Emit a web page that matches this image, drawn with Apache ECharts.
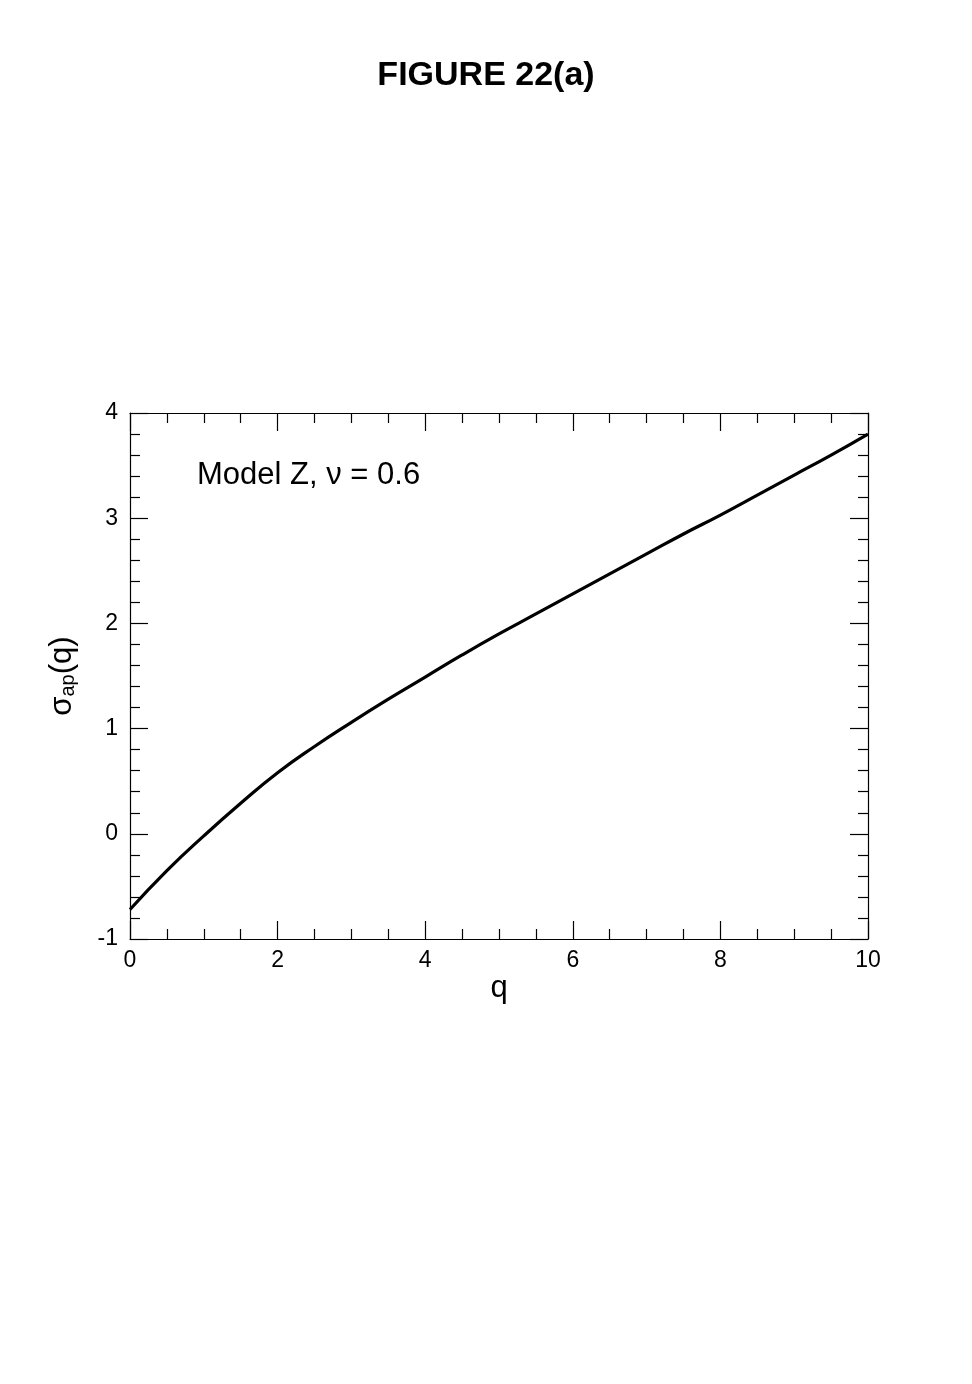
<!DOCTYPE html>
<html>
<head>
<meta charset="utf-8">
<script src="https://cdn.jsdelivr.net/npm/echarts@6/dist/echarts.min.js"></script>
<style>
  html, body { margin: 0; padding: 0; background: #fff; }
  #main { width: 972px; height: 1384px; }
</style>
</head>
<body>
<div id="main"></div>
<script>
// values
var qValues = [0, 0.5, 1.0, 1.5, 2.0, 2.5, 3.0, 3.5, 4.0, 4.5, 5.0,
               5.5, 6.0, 6.5, 7.0, 7.5, 8.0, 8.5, 9.0, 9.5, 10.0];
var sigmaValues = [-0.72, -0.35, -0.02, 0.29, 0.58, 0.83, 1.06, 1.28, 1.49, 1.70, 1.90,
                   2.09, 2.28, 2.47, 2.66, 2.85, 3.03, 3.22, 3.41, 3.60, 3.80];
var xTicks = [0, 2, 4, 6, 8, 10];
var yTicks = [-1, 0, 1, 2, 3, 4];

var FONT = 'Liberation Sans, Arial, Helvetica, sans-serif';

var points = qValues.map(function (q, i) { return [q, sigmaValues[i]]; });

// common axis look: black frame, inward ticks
function frameAxis(extra) {
  var base = {
    type: 'value',
    axisLine: { show: true, onZero: false, lineStyle: { color: '#000', width: 1.2 } },
    axisTick: { show: true, inside: true, length: 18, lineStyle: { color: '#000', width: 1.2 } },
    splitLine: { show: false },
    axisLabel: { show: false }
  };
  return Object.assign(base, extra);
}

var myChart = echarts.init(document.getElementById('main'));
myChart.setOption({
  backgroundColor: '#fff',
  animation: false,
  title: {
    text: 'FIGURE 22(a)',
    left: 'center',
    top: 54,
    textStyle: { fontFamily: FONT, fontSize: 34, fontWeight: 'bold', color: '#000' }
  },
  grid: { left: 130, right: 104, top: 413, bottom: 445 },
  xAxis: [
    frameAxis({
      position: 'bottom', min: 0, max: 10, interval: 2,
      minorTick: { show: true, splitNumber: 4, length: 10, lineStyle: { color: '#000', width: 1.2 } },
      axisLabel: {
        show: true, margin: 10, color: '#000', fontFamily: FONT, fontSize: 23,
        formatter: function (v) { return xTicks.indexOf(v) >= 0 ? String(v) : ''; }
      },
      name: 'q', nameLocation: 'middle', nameGap: 34,
      nameTextStyle: { fontFamily: FONT, fontSize: 31, color: '#000' }
    }),
    frameAxis({
      position: 'top', min: 0, max: 10, interval: 2,
      minorTick: { show: true, splitNumber: 4, length: 10, lineStyle: { color: '#000', width: 1.2 } }
    })
  ],
  yAxis: [
    frameAxis({
      position: 'left', min: -1, max: 4, interval: 1,
      minorTick: { show: true, splitNumber: 5, length: 10, lineStyle: { color: '#000', width: 1.2 } },
      axisLabel: {
        show: true, margin: 12, color: '#000', fontFamily: FONT, fontSize: 23,
        formatter: function (v) { return yTicks.indexOf(v) >= 0 ? String(v) : ''; }
      },
      name: '{s|σ}{sub|ap}{s|(q)}', nameLocation: 'middle', nameGap: 52, nameRotate: 90,
      nameTextStyle: {
        fontFamily: FONT, color: '#000',
        rich: {
          s: { fontFamily: FONT, fontSize: 31, color: '#000' },
          sub: { fontFamily: FONT, fontSize: 20, color: '#000', padding: [12, 0, 0, 0] }
        }
      }
    }),
    frameAxis({
      position: 'right', min: -1, max: 4, interval: 1,
      minorTick: { show: true, splitNumber: 5, length: 10, lineStyle: { color: '#000', width: 1.2 } }
    })
  ],
  graphic: [{
    type: 'text',
    left: 197,
    top: 460,
    style: { text: 'Model Z, ν = 0.6', fontFamily: FONT, fontSize: 31, fill: '#000' }
  }],
  series: [{
    type: 'line',
    xAxisIndex: 0,
    yAxisIndex: 0,
    data: points,
    smooth: 0.5,
    showSymbol: false,
    lineStyle: { color: '#000', width: 3.2 }
  }]
});
</script>
</body>
</html>
